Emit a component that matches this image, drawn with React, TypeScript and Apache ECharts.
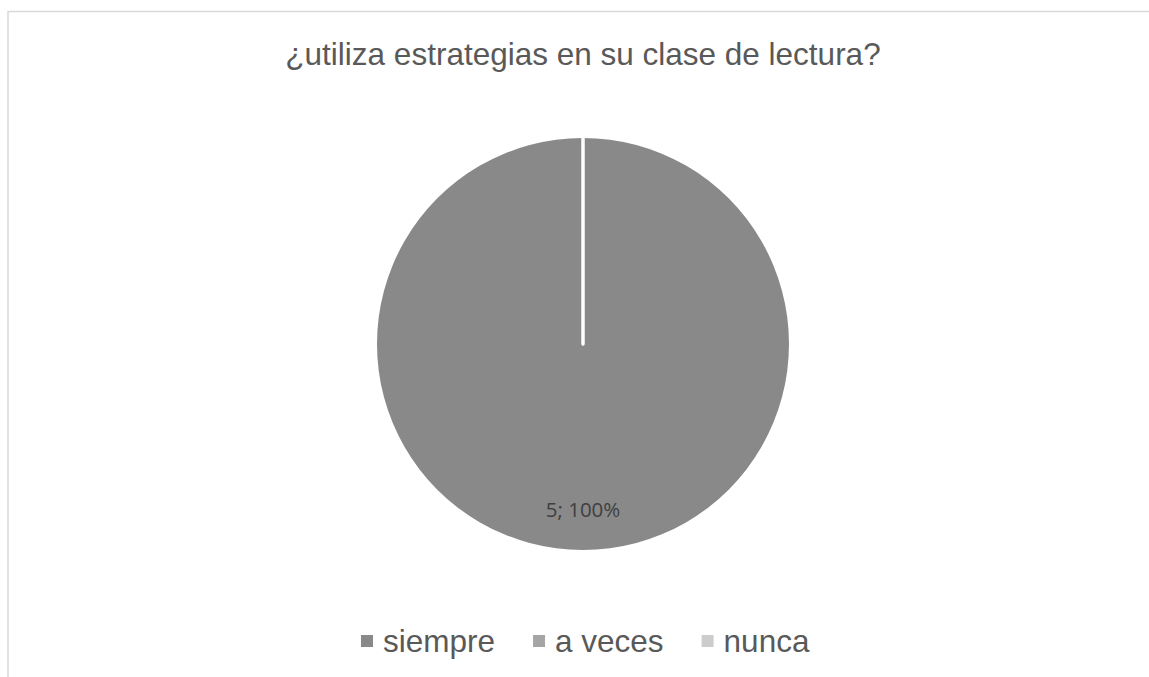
import React, { useEffect, useRef } from "react";
import * as echarts from "echarts";

const titleText = "¿utiliza estrategias en su clase de lectura?";
const categories = ["siempre", "a veces", "nunca"];
const values = [5, 0, 0];
const colors = ["#898989", "#a5a5a5", "#cccccc"];

export default function App() {
  const ref = useRef<HTMLDivElement>(null);
  useEffect(() => {
    if (!ref.current) return;
    const chart = echarts.init(ref.current, null, { renderer: "svg" });
    const total = values.reduce((a, b) => a + b, 0);
    const data = categories.map((name, i) => ({
      name,
      value: values[i],
      itemStyle:
        values[i] === 0
          ? { color: colors[i], borderColor: "#ffffff", borderWidth: 3 }
          : { color: colors[i], borderWidth: 0 },
      label: { show: values[i] > 0 },
    }));
    chart.setOption({
      animation: false,
      backgroundColor: "#ffffff",
      title: {
        text: titleText,
        left: 578,
        textAlign: "center",
        top: 33,
        textStyle: {
          fontFamily: "Liberation Sans, Arial, sans-serif",
          fontSize: 31.5,
          fontWeight: "normal",
          color: "#595959",
        },
      },
      legend: {
        data: categories.map((name, i) => ({
          name,
          itemStyle: { color: colors[i], borderWidth: 0 },
        })),
        left: 356,
        top: 620,
        icon: "rect",
        itemWidth: 12,
        itemHeight: 12,
        itemGap: 38,
        selectedMode: false,
        itemStyle: { borderWidth: 0 },
        textStyle: {
          fontFamily: "Liberation Sans, Arial, sans-serif",
          fontSize: 31.5,
          color: "#595959",
          padding: [0, 0, 0, 5],
        },
      },
      graphic: [
        {
          type: "rect",
          silent: true,
          shape: { x: 8, y: 11.5, width: 1300, height: 800 },
          style: { fill: "none", stroke: "#d9d9d9", lineWidth: 1.5 },
        },
      ],
      series: [
        {
          type: "pie",
          center: [583, 344],
          radius: [0, 206],
          startAngle: 90,
          clockwise: true,
          stillShowZeroSum: true,
          data,
          label: {
            position: "inside",
            formatter: (p: any) =>
              `{gap|}\n{v|${p.value}; ${Math.round((p.value / total) * 100)}%}`,
            rich: {
              gap: { height: 117, fontSize: 1, lineHeight: 117 },
              v: {
                fontFamily: "Open Sans, sans-serif",
                fontSize: 20.5,
                lineHeight: 26,
                color: "#404040",
              },
            },
          },
          labelLine: { show: false },
          emphasis: { disabled: true },
        },
      ],
    });
    return () => chart.dispose();
  }, []);
  return (
    <div
      ref={ref}
      style={{ position: "fixed", left: 0, top: 0, width: 1149, height: 677 }}
    />
  );
}
